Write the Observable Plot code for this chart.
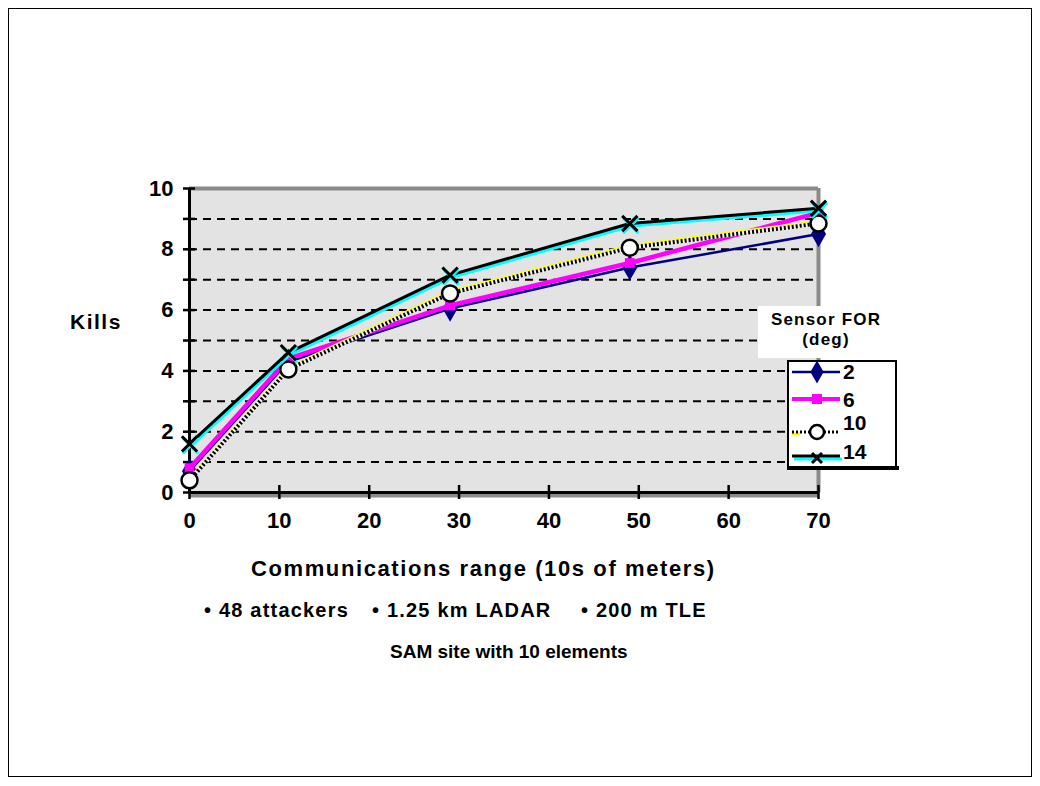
<!DOCTYPE html>
<html>
<head>
<meta charset="utf-8">
<script src="https://cdn.jsdelivr.net/npm/d3@7"></script>
<script src="https://cdn.jsdelivr.net/npm/@observablehq/plot@0.6"></script>
<style>
  html, body { margin: 0; padding: 0; background: #fff; }
  #wrap { position: relative; width: 1040px; height: 786px; font-family: "Liberation Sans", Arial, sans-serif; font-weight: bold; color: #000; }
  #wrap svg { display: block; }
  .lbl { position: absolute; white-space: nowrap; font-weight: bold; }
  #border { position: absolute; left: 8px; top: 8px; width: 1024px; height: 769px; border: 1px solid #000; box-sizing: border-box; pointer-events: none; }
</style>
</head>
<body>
<div id="wrap"></div>
<script>
// ---- data ----
const xValues = [0, 11, 29, 49, 70];
const seriesNames = ["2", "6", "10", "14"];
const kills2  = [0.7, 4.3, 6.05, 7.4, 8.5];
const kills6  = [0.8, 4.4, 6.15, 7.55, 9.2];
const kills10 = [0.4, 4.05, 6.55, 8.05, 8.85];
const kills14 = [1.6, 4.6, 7.15, 8.85, 9.35];
const xTicks = [0, 10, 20, 30, 40, 50, 60, 70];
const yTicks = [0, 1, 2, 3, 4, 5, 6, 7, 8, 9, 10];
const yLabels = [0, 2, 4, 6, 8, 10];
const gridValues = [1, 2, 3, 4, 5, 6, 7, 8, 9];

const toRows = (vals) => xValues.map((x, i) => ({x, y: vals[i]}));
const d2 = toRows(kills2), d6 = toRows(kills6), d10 = toRows(kills10), d14 = toRows(kills14);

const chart = Plot.plot({
  width: 1040,
  height: 786,
  marginLeft: 189,
  marginRight: 222,
  marginTop: 188,
  marginBottom: 294,
  style: {fontFamily: "'Liberation Sans', Arial, sans-serif", fontWeight: "bold", background: "transparent"},
  x: {domain: [0, 70], label: null},
  y: {domain: [0, 10], label: null},
  marks: [
    Plot.frame({fill: "#e3e3e3", stroke: "none"}),
    Plot.gridY(gridValues, {stroke: "#000", strokeOpacity: 1, strokeWidth: 2, strokeDasharray: "8,6"}),
    Plot.ruleY([10], {stroke: "#8a8a8a", strokeWidth: 4}),
    Plot.ruleX([70], {stroke: "#8a8a8a", strokeWidth: 4}),
    Plot.ruleY([0], {stroke: "#8a8a8a", strokeWidth: 4, dy: 3}),
    Plot.ruleX([0], {stroke: "#000", strokeWidth: 3}),
    Plot.ruleY([0], {stroke: "#000", strokeWidth: 3}),
    // axes
    Plot.axisY(yTicks, {tickSize: 12, dx: 6, tickFormat: () => "", stroke: "#000", strokeWidth: 2.5, label: null}),
    Plot.axisY(yLabels, {tickSize: 0, tickPadding: 16, fontSize: 22, fontWeight: "bold", fill: "#000", label: null}),
    Plot.axisX(xTicks, {tickSize: 14, dy: -7, tickFormat: () => "", stroke: "#000", strokeWidth: 2.5, label: null}),
    Plot.axisX(xTicks, {tickSize: 0, tickPadding: 20, fontSize: 22, fontWeight: "bold", fill: "#000", label: null}),
    // series 2
    Plot.line(d2, {x: "x", y: "y", stroke: "#000080", strokeWidth: 2.5}),
    Plot.dot(d2, {x: "x", y: "y", symbol: "diamond", r: 7, fill: "#000080", stroke: "#000080"}),
    // series 6
    Plot.line(d6, {x: "x", y: "y", stroke: "#ff00ff", strokeWidth: 4.5}),
    Plot.dot(d6, {x: "x", y: "y", symbol: "square", r: 5.5, fill: "#ff00ff", stroke: "none"}),
    // series 10
    Plot.line(d10, {x: "x", y: "y", stroke: "#ffff00", strokeWidth: 2, dy: -2.5}),
    Plot.line(d10, {x: "x", y: "y", stroke: "#f4f4f4", strokeWidth: 4, strokeLinecap: "butt"}),
    Plot.line(d10, {x: "x", y: "y", stroke: "#000", strokeWidth: 4, strokeDasharray: "2,2", strokeLinecap: "butt"}),
    Plot.dot(d10, {x: "x", y: "y", symbol: "circle", r: 8, fill: "#fff", stroke: "#000", strokeWidth: 2.5}),
    // series 14
    Plot.line(d14, {x: "x", y: "y", stroke: "#00ffff", strokeWidth: 3, dy: 2.5, dx: 1}),
    Plot.line(d14, {x: "x", y: "y", stroke: "#000", strokeWidth: 3}),
    Plot.dot(d14, {x: "x", y: "y", symbol: "times", r: 7, stroke: "#00ffff", strokeWidth: 3, dx: 1, dy: 2}),
    Plot.dot(d14, {x: "x", y: "y", symbol: "times", r: 7, stroke: "#000", strokeWidth: 3})
  ]
});

const wrap = document.getElementById("wrap");
wrap.appendChild(chart);

function addLabel(text, left, top, size, extra) {
  const el = document.createElement("div");
  el.className = "lbl";
  el.textContent = text;
  el.style.left = left + "px";
  el.style.top = top + "px";
  el.style.fontSize = size + "px";
  if (extra) Object.assign(el.style, extra);
  wrap.appendChild(el);
  return el;
}

addLabel("Kills", 70, 310, 21, {letterSpacing: "1.5px"});
addLabel("Communications range (10s of meters)", 251, 556, 22, {letterSpacing: "1.6px"});
addLabel("\u2022 48 attackers", 204, 599, 20, {letterSpacing: "1.2px"});
addLabel("\u2022 1.25 km LADAR", 372, 599, 20, {letterSpacing: "1.2px"});
addLabel("\u2022 200 m TLE", 581, 599, 20, {letterSpacing: "1.2px"});
addLabel("SAM site with 10 elements", 390, 641, 19);

// legend title
const title = document.createElement("div");
title.className = "lbl";
Object.assign(title.style, {left: "758px", top: "306px", width: "134px", height: "52px", background: "#fff", fontSize: "17px", textAlign: "center", lineHeight: "20px", paddingTop: "4px", boxSizing: "border-box", letterSpacing: "1.2px", paddingLeft: "2px"});
title.innerHTML = "Sensor FOR<br>(deg)";
wrap.appendChild(title);

// legend box
const legendStyles = [
  {name: seriesNames[0], cy: 12},
  {name: seriesNames[1], cy: 39},
  {name: seriesNames[2], cy: 72},
  {name: seriesNames[3], cy: 96}
];
const lg = d3.create("svg").attr("width", 112).attr("height", 112)
  .style("position", "absolute").style("left", "787px").style("top", "360px");
lg.append("rect").attr("x", 1).attr("y", 1).attr("width", 108).attr("height", 107).attr("fill", "#fff").attr("stroke", "#000").attr("stroke-width", 2);
lg.append("line").attr("x1", 0).attr("x2", 112).attr("y1", 108).attr("y2", 108).attr("stroke", "#000").attr("stroke-width", 4);
const lx1 = 5, lx2 = 53, mx = 30;
// 2
let cy = legendStyles[0].cy;
lg.append("line").attr("x1", lx1).attr("x2", lx2).attr("y1", cy).attr("y2", cy).attr("stroke", "#000080").attr("stroke-width", 2.5);
lg.append("path").attr("d", d3.symbol(d3.symbolDiamond, 150)()).attr("transform", `translate(${mx},${cy})`).attr("fill", "#000080");
// 6
cy = legendStyles[1].cy;
lg.append("line").attr("x1", lx1).attr("x2", lx2).attr("y1", cy).attr("y2", cy).attr("stroke", "#ff00ff").attr("stroke-width", 4);
lg.append("rect").attr("x", mx - 5).attr("y", cy - 5).attr("width", 10).attr("height", 10).attr("fill", "#ff00ff");
// 10
cy = legendStyles[2].cy;
lg.append("line").attr("x1", lx1).attr("x2", lx1 + 8).attr("y1", cy + 2).attr("y2", cy + 2).attr("stroke", "#ffff00").attr("stroke-width", 3);
lg.append("line").attr("x1", lx1).attr("x2", lx2).attr("y1", cy).attr("y2", cy).attr("stroke", "#000").attr("stroke-width", 3).attr("stroke-dasharray", "2,2");
lg.append("circle").attr("cx", mx).attr("cy", cy).attr("r", 7).attr("fill", "#fff").attr("stroke", "#000").attr("stroke-width", 2.5);
// 14
cy = legendStyles[3].cy;
lg.append("line").attr("x1", lx1 + 2).attr("x2", lx2 + 2).attr("y1", cy + 3).attr("y2", cy + 3).attr("stroke", "#00ffff").attr("stroke-width", 3);
lg.append("line").attr("x1", lx1).attr("x2", lx2).attr("y1", cy).attr("y2", cy).attr("stroke", "#000").attr("stroke-width", 3);
lg.append("path").attr("d", "M-5,-5L5,5M-5,5L5,-5").attr("transform", `translate(${mx},${cy + 2})`).attr("stroke", "#000").attr("stroke-width", 3);
// labels
const labelY = [19, 47, 70, 99];
legendStyles.forEach((s, i) => {
  lg.append("text").attr("x", 56).attr("y", labelY[i]).attr("font-size", 21).attr("font-weight", "bold")
    .attr("font-family", "'Liberation Sans', Arial, sans-serif").text(s.name);
});
wrap.appendChild(lg.node());

const border = document.createElement("div");
border.id = "border";
wrap.appendChild(border);
</script>
</body>
</html>
